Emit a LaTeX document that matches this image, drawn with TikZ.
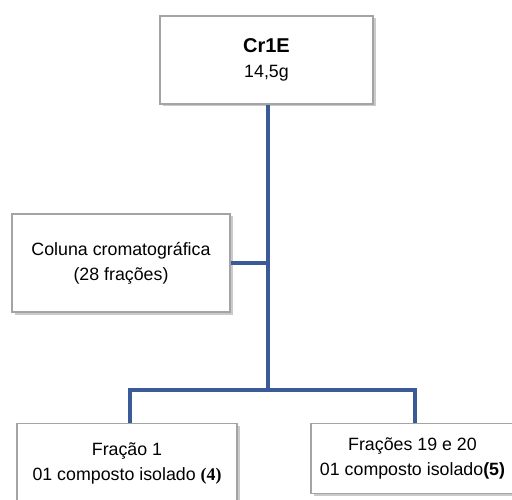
\documentclass[tikz,border=0pt]{standalone}
\usepackage{fontspec}
\setmainfont{Liberation Sans}
\newfontfamily\numserif{Liberation Serif}
\usetikzlibrary{shadows}
\definecolor{linkblue}{HTML}{3A5A98}
\definecolor{boxline}{HTML}{A4A4A4}
\tikzset{
  stepbox/.style={draw=boxline, line width=1.3pt, fill=white, inner sep=0pt,
    align=center, font=\fontsize{17.8}{25}\selectfont,
    drop shadow={shadow xshift=2.5pt, shadow yshift=-2.5pt, opacity=0.35, fill=black!60}},
  link/.style={draw=linkblue, line width=3.8pt}
}
\begin{document}
\begin{tikzpicture}[x=1pt, y=-1pt]
  \useasboundingbox (0,0) rectangle (512,500);
  % boxes
  \node[stepbox, minimum width=213pt, minimum height=88pt] (top) at (266.5,60)
    {{\fontsize{20}{28}\selectfont\bfseries Cr1E}\\14,5g};
  \node[stepbox, minimum width=218pt, minimum height=98pt] (col) at (121,263)
    {Coluna cromatográfica\\(28 frações)};
  % this box runs past the lower edge, so an empty last line lifts its text
  \node[stepbox, minimum width=220pt, minimum height=100pt, anchor=north] (left) at (127,423)
    {Fração 1\\01 composto isolado {\numserif\bfseries (4)}\\\mbox{}};
  \node[stepbox, minimum width=203pt, minimum height=70pt, anchor=north] (right) at (412.5,423)
    {Frações 19 e 20\\01 composto isolado{\bfseries (5)}};
  % connectors
  \coordinate (hub) at (268,390);
  \coordinate (lefttop) at (130,423);
  \coordinate (righttop) at (415,423);
  \draw[link] (top.south -| hub) -- (hub);
  \draw[link] (col.east) -- (col.east -| hub);
  \draw[link] (lefttop) |- (hub) -| (righttop);
\end{tikzpicture}
\end{document}
